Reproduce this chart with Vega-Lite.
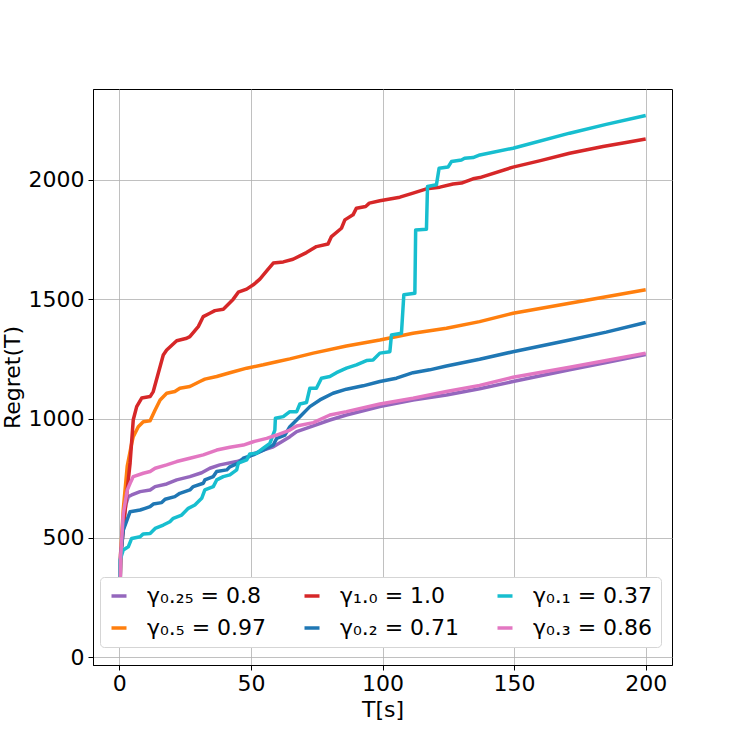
{
  "$schema": "https://vega.github.io/schema/vega-lite/v6.json",
  "width": 579,
  "height": 576,
  "autosize": "none",
  "padding": {"left": 93, "top": 89, "right": 75, "bottom": 82},
  "config": {
    "font": "DejaVu Sans",
    "view": {"stroke": "black", "strokeWidth": 1},
    "axis": {
      "labelFont": "DejaVu Sans", "labelFontSize": 22, "labelColor": "black",
      "titleFont": "DejaVu Sans", "titleFontSize": 22, "titleFontWeight": "normal", "titleColor": "black",
      "domainColor": "black", "tickColor": "black", "tickSize": 5, "tickWidth": 1,
      "gridColor": "#b0b0b0", "gridWidth": 0.8
    }
  },
  "datasets": {
    "regret": [
      {"s": "γ₀.₂₅ = 0.8", "T": 0, "V": 78}, {"s": "γ₀.₂₅ = 0.8", "T": 0.5, "V": 430}, {"s": "γ₀.₂₅ = 0.8", "T": 1.5, "V": 560},
      {"s": "γ₀.₂₅ = 0.8", "T": 2.5, "V": 640}, {"s": "γ₀.₂₅ = 0.8", "T": 3.4, "V": 673}, {"s": "γ₀.₂₅ = 0.8", "T": 4.7, "V": 680},
      {"s": "γ₀.₂₅ = 0.8", "T": 7.9, "V": 694}, {"s": "γ₀.₂₅ = 0.8", "T": 11.7, "V": 701}, {"s": "γ₀.₂₅ = 0.8", "T": 13.6, "V": 715},
      {"s": "γ₀.₂₅ = 0.8", "T": 18, "V": 726}, {"s": "γ₀.₂₅ = 0.8", "T": 21.8, "V": 743}, {"s": "γ₀.₂₅ = 0.8", "T": 26.8, "V": 757},
      {"s": "γ₀.₂₅ = 0.8", "T": 31.3, "V": 773}, {"s": "γ₀.₂₅ = 0.8", "T": 34.4, "V": 792}, {"s": "γ₀.₂₅ = 0.8", "T": 38.2, "V": 806},
      {"s": "γ₀.₂₅ = 0.8", "T": 44.6, "V": 820}, {"s": "γ₀.₂₅ = 0.8", "T": 48.4, "V": 834}, {"s": "γ₀.₂₅ = 0.8", "T": 50.9, "V": 852},
      {"s": "γ₀.₂₅ = 0.8", "T": 54.7, "V": 868}, {"s": "γ₀.₂₅ = 0.8", "T": 58.5, "V": 882}, {"s": "γ₀.₂₅ = 0.8", "T": 61.7, "V": 903},
      {"s": "γ₀.₂₅ = 0.8", "T": 64.8, "V": 924}, {"s": "γ₀.₂₅ = 0.8", "T": 67.4, "V": 945}, {"s": "γ₀.₂₅ = 0.8", "T": 73.7, "V": 969},
      {"s": "γ₀.₂₅ = 0.8", "T": 80, "V": 994}, {"s": "γ₀.₂₅ = 0.8", "T": 86.3, "V": 1015}, {"s": "γ₀.₂₅ = 0.8", "T": 99, "V": 1050},
      {"s": "γ₀.₂₅ = 0.8", "T": 111.6, "V": 1078}, {"s": "γ₀.₂₅ = 0.8", "T": 124.3, "V": 1099}, {"s": "γ₀.₂₅ = 0.8", "T": 136.9, "V": 1125},
      {"s": "γ₀.₂₅ = 0.8", "T": 149.6, "V": 1155}, {"s": "γ₀.₂₅ = 0.8", "T": 171.1, "V": 1204}, {"s": "γ₀.₂₅ = 0.8", "T": 185, "V": 1235},
      {"s": "γ₀.₂₅ = 0.8", "T": 200, "V": 1268},

      {"s": "γ₀.₅ = 0.97", "T": 0, "V": 78}, {"s": "γ₀.₅ = 0.97", "T": 0.5, "V": 430}, {"s": "γ₀.₅ = 0.97", "T": 1.5, "V": 620},
      {"s": "γ₀.₅ = 0.97", "T": 3, "V": 800}, {"s": "γ₀.₅ = 0.97", "T": 4.7, "V": 896}, {"s": "γ₀.₅ = 0.97", "T": 5.3, "V": 924},
      {"s": "γ₀.₅ = 0.97", "T": 7.2, "V": 966}, {"s": "γ₀.₅ = 0.97", "T": 9.1, "V": 987}, {"s": "γ₀.₅ = 0.97", "T": 11.7, "V": 991},
      {"s": "γ₀.₅ = 0.97", "T": 13.6, "V": 1036}, {"s": "γ₀.₅ = 0.97", "T": 15.5, "V": 1078}, {"s": "γ₀.₅ = 0.97", "T": 18, "V": 1106},
      {"s": "γ₀.₅ = 0.97", "T": 21.1, "V": 1113}, {"s": "γ₀.₅ = 0.97", "T": 23, "V": 1127}, {"s": "γ₀.₅ = 0.97", "T": 26.8, "V": 1134},
      {"s": "γ₀.₅ = 0.97", "T": 30.6, "V": 1155}, {"s": "γ₀.₅ = 0.97", "T": 32.5, "V": 1165}, {"s": "γ₀.₅ = 0.97", "T": 37, "V": 1176},
      {"s": "γ₀.₅ = 0.97", "T": 42, "V": 1192}, {"s": "γ₀.₅ = 0.97", "T": 48.4, "V": 1211}, {"s": "γ₀.₅ = 0.97", "T": 54.7, "V": 1225},
      {"s": "γ₀.₅ = 0.97", "T": 59.8, "V": 1238}, {"s": "γ₀.₅ = 0.97", "T": 64.8, "V": 1250}, {"s": "γ₀.₅ = 0.97", "T": 73.7, "V": 1274},
      {"s": "γ₀.₅ = 0.97", "T": 86.3, "V": 1304}, {"s": "γ₀.₅ = 0.97", "T": 99, "V": 1329}, {"s": "γ₀.₅ = 0.97", "T": 111.6, "V": 1357},
      {"s": "γ₀.₅ = 0.97", "T": 124.3, "V": 1378}, {"s": "γ₀.₅ = 0.97", "T": 136.9, "V": 1406}, {"s": "γ₀.₅ = 0.97", "T": 149.6, "V": 1441},
      {"s": "γ₀.₅ = 0.97", "T": 171.1, "V": 1483}, {"s": "γ₀.₅ = 0.97", "T": 185, "V": 1510}, {"s": "γ₀.₅ = 0.97", "T": 200, "V": 1539},

      {"s": "γ₁.₀ = 1.0", "T": 0, "V": 78}, {"s": "γ₁.₀ = 1.0", "T": 0.5, "V": 440}, {"s": "γ₁.₀ = 1.0", "T": 0.9, "V": 463},
      {"s": "γ₁.₀ = 1.0", "T": 2.5, "V": 650}, {"s": "γ₁.₀ = 1.0", "T": 4.1, "V": 814}, {"s": "γ₁.₀ = 1.0", "T": 5.3, "V": 995},
      {"s": "γ₁.₀ = 1.0", "T": 6.6, "V": 1050}, {"s": "γ₁.₀ = 1.0", "T": 8.5, "V": 1086}, {"s": "γ₁.₀ = 1.0", "T": 11.7, "V": 1092},
      {"s": "γ₁.₀ = 1.0", "T": 12.9, "V": 1113}, {"s": "γ₁.₀ = 1.0", "T": 16.7, "V": 1266}, {"s": "γ₁.₀ = 1.0", "T": 18, "V": 1287},
      {"s": "γ₁.₀ = 1.0", "T": 21.8, "V": 1326}, {"s": "γ₁.₀ = 1.0", "T": 25.6, "V": 1336}, {"s": "γ₁.₀ = 1.0", "T": 26.8, "V": 1343},
      {"s": "γ₁.₀ = 1.0", "T": 30, "V": 1385}, {"s": "γ₁.₀ = 1.0", "T": 31.9, "V": 1427}, {"s": "γ₁.₀ = 1.0", "T": 34.4, "V": 1441},
      {"s": "γ₁.₀ = 1.0", "T": 36.3, "V": 1452}, {"s": "γ₁.₀ = 1.0", "T": 39.5, "V": 1458}, {"s": "γ₁.₀ = 1.0", "T": 43.3, "V": 1500},
      {"s": "γ₁.₀ = 1.0", "T": 45.2, "V": 1529}, {"s": "γ₁.₀ = 1.0", "T": 48.4, "V": 1542}, {"s": "γ₁.₀ = 1.0", "T": 50.9, "V": 1560},
      {"s": "γ₁.₀ = 1.0", "T": 53.4, "V": 1584}, {"s": "γ₁.₀ = 1.0", "T": 56, "V": 1618}, {"s": "γ₁.₀ = 1.0", "T": 58.5, "V": 1651},
      {"s": "γ₁.₀ = 1.0", "T": 62.3, "V": 1656}, {"s": "γ₁.₀ = 1.0", "T": 66, "V": 1667}, {"s": "γ₁.₀ = 1.0", "T": 71.1, "V": 1695},
      {"s": "γ₁.₀ = 1.0", "T": 74.9, "V": 1720}, {"s": "γ₁.₀ = 1.0", "T": 79.3, "V": 1731}, {"s": "γ₁.₀ = 1.0", "T": 80.6, "V": 1762},
      {"s": "γ₁.₀ = 1.0", "T": 84.4, "V": 1797}, {"s": "γ₁.₀ = 1.0", "T": 85.7, "V": 1832}, {"s": "γ₁.₀ = 1.0", "T": 88.8, "V": 1853},
      {"s": "γ₁.₀ = 1.0", "T": 90.1, "V": 1881}, {"s": "γ₁.₀ = 1.0", "T": 93.6, "V": 1888}, {"s": "γ₁.₀ = 1.0", "T": 95, "V": 1902},
      {"s": "γ₁.₀ = 1.0", "T": 99, "V": 1912}, {"s": "γ₁.₀ = 1.0", "T": 106.6, "V": 1927}, {"s": "γ₁.₀ = 1.0", "T": 111.6, "V": 1944},
      {"s": "γ₁.₀ = 1.0", "T": 116.7, "V": 1962}, {"s": "γ₁.₀ = 1.0", "T": 121.8, "V": 1969}, {"s": "γ₁.₀ = 1.0", "T": 126.8, "V": 1982},
      {"s": "γ₁.₀ = 1.0", "T": 130, "V": 1986}, {"s": "γ₁.₀ = 1.0", "T": 134.4, "V": 2004}, {"s": "γ₁.₀ = 1.0", "T": 137, "V": 2009},
      {"s": "γ₁.₀ = 1.0", "T": 149.6, "V": 2053}, {"s": "γ₁.₀ = 1.0", "T": 160, "V": 2080}, {"s": "γ₁.₀ = 1.0", "T": 171.1, "V": 2111},
      {"s": "γ₁.₀ = 1.0", "T": 183.8, "V": 2139}, {"s": "γ₁.₀ = 1.0", "T": 192, "V": 2155}, {"s": "γ₁.₀ = 1.0", "T": 200, "V": 2171},

      {"s": "γ₀.₂ = 0.71", "T": 0, "V": 78}, {"s": "γ₀.₂ = 0.71", "T": 0.5, "V": 420}, {"s": "γ₀.₂ = 0.71", "T": 1.5, "V": 533},
      {"s": "γ₀.₂ = 0.71", "T": 3.4, "V": 589}, {"s": "γ₀.₂ = 0.71", "T": 4.1, "V": 610}, {"s": "γ₀.₂ = 0.71", "T": 7.9, "V": 617},
      {"s": "γ₀.₂ = 0.71", "T": 9.8, "V": 624}, {"s": "γ₀.₂ = 0.71", "T": 11.7, "V": 631}, {"s": "γ₀.₂ = 0.71", "T": 12.9, "V": 642},
      {"s": "γ₀.₂ = 0.71", "T": 16.1, "V": 648}, {"s": "γ₀.₂ = 0.71", "T": 17.4, "V": 662}, {"s": "γ₀.₂ = 0.71", "T": 21.1, "V": 673},
      {"s": "γ₀.₂ = 0.71", "T": 23, "V": 687}, {"s": "γ₀.₂ = 0.71", "T": 26.8, "V": 701}, {"s": "γ₀.₂ = 0.71", "T": 28.1, "V": 715},
      {"s": "γ₀.₂ = 0.71", "T": 31.9, "V": 729}, {"s": "γ₀.₂ = 0.71", "T": 32.5, "V": 743}, {"s": "γ₀.₂ = 0.71", "T": 35.7, "V": 757},
      {"s": "γ₀.₂ = 0.71", "T": 37, "V": 778}, {"s": "γ₀.₂ = 0.71", "T": 40.8, "V": 785}, {"s": "γ₀.₂ = 0.71", "T": 42, "V": 798},
      {"s": "γ₀.₂ = 0.71", "T": 45.2, "V": 813}, {"s": "γ₀.₂ = 0.71", "T": 47.1, "V": 834}, {"s": "γ₀.₂ = 0.71", "T": 50.9, "V": 848},
      {"s": "γ₀.₂ = 0.71", "T": 54.7, "V": 868}, {"s": "γ₀.₂ = 0.71", "T": 58.5, "V": 889}, {"s": "γ₀.₂ = 0.71", "T": 59.8, "V": 917},
      {"s": "γ₀.₂ = 0.71", "T": 62.9, "V": 931}, {"s": "γ₀.₂ = 0.71", "T": 64.8, "V": 966}, {"s": "γ₀.₂ = 0.71", "T": 68.6, "V": 1008},
      {"s": "γ₀.₂ = 0.71", "T": 72.4, "V": 1050}, {"s": "γ₀.₂ = 0.71", "T": 76.2, "V": 1078}, {"s": "γ₀.₂ = 0.71", "T": 81.2, "V": 1106},
      {"s": "γ₀.₂ = 0.71", "T": 86.3, "V": 1123}, {"s": "γ₀.₂ = 0.71", "T": 92.6, "V": 1137}, {"s": "γ₀.₂ = 0.71", "T": 99, "V": 1155},
      {"s": "γ₀.₂ = 0.71", "T": 105.3, "V": 1169}, {"s": "γ₀.₂ = 0.71", "T": 111.6, "V": 1192}, {"s": "γ₀.₂ = 0.71", "T": 117.9, "V": 1204},
      {"s": "γ₀.₂ = 0.71", "T": 124.3, "V": 1220}, {"s": "γ₀.₂ = 0.71", "T": 136.9, "V": 1248}, {"s": "γ₀.₂ = 0.71", "T": 149.6, "V": 1280},
      {"s": "γ₀.₂ = 0.71", "T": 171.1, "V": 1329}, {"s": "γ₀.₂ = 0.71", "T": 185, "V": 1362}, {"s": "γ₀.₂ = 0.71", "T": 200, "V": 1402},

      {"s": "γ₀.₁ = 0.37", "T": 0, "V": 78}, {"s": "γ₀.₁ = 0.37", "T": 0.3, "V": 408}, {"s": "γ₀.₁ = 0.37", "T": 1.5, "V": 450},
      {"s": "γ₀.₁ = 0.37", "T": 3.4, "V": 463}, {"s": "γ₀.₁ = 0.37", "T": 4.7, "V": 498}, {"s": "γ₀.₁ = 0.37", "T": 7.9, "V": 505},
      {"s": "γ₀.₁ = 0.37", "T": 9.1, "V": 517}, {"s": "γ₀.₁ = 0.37", "T": 11.7, "V": 519}, {"s": "γ₀.₁ = 0.37", "T": 13.6, "V": 540},
      {"s": "γ₀.₁ = 0.37", "T": 16.7, "V": 554}, {"s": "γ₀.₁ = 0.37", "T": 19.2, "V": 568}, {"s": "γ₀.₁ = 0.37", "T": 20.5, "V": 582},
      {"s": "γ₀.₁ = 0.37", "T": 23.7, "V": 596}, {"s": "γ₀.₁ = 0.37", "T": 26.2, "V": 624}, {"s": "γ₀.₁ = 0.37", "T": 28.7, "V": 638},
      {"s": "γ₀.₁ = 0.37", "T": 31.3, "V": 666}, {"s": "γ₀.₁ = 0.37", "T": 32.5, "V": 701}, {"s": "γ₀.₁ = 0.37", "T": 35.7, "V": 715},
      {"s": "γ₀.₁ = 0.37", "T": 37, "V": 743}, {"s": "γ₀.₁ = 0.37", "T": 39.5, "V": 757}, {"s": "γ₀.₁ = 0.37", "T": 42, "V": 764},
      {"s": "γ₀.₁ = 0.37", "T": 44.6, "V": 785}, {"s": "γ₀.₁ = 0.37", "T": 45.2, "V": 813}, {"s": "γ₀.₁ = 0.37", "T": 48.4, "V": 827},
      {"s": "γ₀.₁ = 0.37", "T": 49.6, "V": 852}, {"s": "γ₀.₁ = 0.37", "T": 52.2, "V": 855}, {"s": "γ₀.₁ = 0.37", "T": 54.7, "V": 876},
      {"s": "γ₀.₁ = 0.37", "T": 57.2, "V": 896}, {"s": "γ₀.₁ = 0.37", "T": 59.1, "V": 952}, {"s": "γ₀.₁ = 0.37", "T": 59.3, "V": 1001},
      {"s": "γ₀.₁ = 0.37", "T": 62.3, "V": 1008}, {"s": "γ₀.₁ = 0.37", "T": 64.8, "V": 1029}, {"s": "γ₀.₁ = 0.37", "T": 67.4, "V": 1029},
      {"s": "γ₀.₁ = 0.37", "T": 68.6, "V": 1061}, {"s": "γ₀.₁ = 0.37", "T": 71.1, "V": 1067}, {"s": "γ₀.₁ = 0.37", "T": 72.4, "V": 1127},
      {"s": "γ₀.₁ = 0.37", "T": 74.9, "V": 1127}, {"s": "γ₀.₁ = 0.37", "T": 76.8, "V": 1169}, {"s": "γ₀.₁ = 0.37", "T": 80, "V": 1176},
      {"s": "γ₀.₁ = 0.37", "T": 82.5, "V": 1192}, {"s": "γ₀.₁ = 0.37", "T": 86.3, "V": 1211}, {"s": "γ₀.₁ = 0.37", "T": 90.1, "V": 1225},
      {"s": "γ₀.₁ = 0.37", "T": 93.9, "V": 1243}, {"s": "γ₀.₁ = 0.37", "T": 96.4, "V": 1245}, {"s": "γ₀.₁ = 0.37", "T": 99, "V": 1274},
      {"s": "γ₀.₁ = 0.37", "T": 102.8, "V": 1280}, {"s": "γ₀.₁ = 0.37", "T": 103.4, "V": 1350}, {"s": "γ₀.₁ = 0.37", "T": 107.2, "V": 1357},
      {"s": "γ₀.₁ = 0.37", "T": 108.1, "V": 1518}, {"s": "γ₀.₁ = 0.37", "T": 112.3, "V": 1525}, {"s": "γ₀.₁ = 0.37", "T": 112.6, "V": 1790},
      {"s": "γ₀.₁ = 0.37", "T": 116.7, "V": 1793}, {"s": "γ₀.₁ = 0.37", "T": 117.1, "V": 1972}, {"s": "γ₀.₁ = 0.37", "T": 120.5, "V": 1979},
      {"s": "γ₀.₁ = 0.37", "T": 121.5, "V": 2048}, {"s": "γ₀.₁ = 0.37", "T": 124.9, "V": 2053}, {"s": "γ₀.₁ = 0.37", "T": 126.2, "V": 2076},
      {"s": "γ₀.₁ = 0.37", "T": 130, "V": 2083}, {"s": "γ₀.₁ = 0.37", "T": 131.2, "V": 2090}, {"s": "γ₀.₁ = 0.37", "T": 134.4, "V": 2093},
      {"s": "γ₀.₁ = 0.37", "T": 137, "V": 2104}, {"s": "γ₀.₁ = 0.37", "T": 149.6, "V": 2132}, {"s": "γ₀.₁ = 0.37", "T": 171.1, "V": 2195},
      {"s": "γ₀.₁ = 0.37", "T": 185, "V": 2232}, {"s": "γ₀.₁ = 0.37", "T": 200, "V": 2269},

      {"s": "γ₀.₃ = 0.86", "T": 0, "V": 78}, {"s": "γ₀.₃ = 0.86", "T": 0.5, "V": 420}, {"s": "γ₀.₃ = 0.86", "T": 1.5, "V": 600},
      {"s": "γ₀.₃ = 0.86", "T": 3, "V": 700}, {"s": "γ₀.₃ = 0.86", "T": 4.1, "V": 729}, {"s": "γ₀.₃ = 0.86", "T": 5.3, "V": 757},
      {"s": "γ₀.₃ = 0.86", "T": 9.1, "V": 771}, {"s": "γ₀.₃ = 0.86", "T": 11.7, "V": 778}, {"s": "γ₀.₃ = 0.86", "T": 13.6, "V": 792},
      {"s": "γ₀.₃ = 0.86", "T": 18, "V": 806}, {"s": "γ₀.₃ = 0.86", "T": 21.8, "V": 820}, {"s": "γ₀.₃ = 0.86", "T": 26.8, "V": 834},
      {"s": "γ₀.₃ = 0.86", "T": 31.9, "V": 848}, {"s": "γ₀.₃ = 0.86", "T": 37, "V": 868}, {"s": "γ₀.₃ = 0.86", "T": 42, "V": 880},
      {"s": "γ₀.₃ = 0.86", "T": 47.1, "V": 889}, {"s": "γ₀.₃ = 0.86", "T": 50.9, "V": 903}, {"s": "γ₀.₃ = 0.86", "T": 56, "V": 917},
      {"s": "γ₀.₃ = 0.86", "T": 59.8, "V": 931}, {"s": "γ₀.₃ = 0.86", "T": 64.8, "V": 952}, {"s": "γ₀.₃ = 0.86", "T": 67.4, "V": 969},
      {"s": "γ₀.₃ = 0.86", "T": 73.7, "V": 983}, {"s": "γ₀.₃ = 0.86", "T": 80, "V": 1015}, {"s": "γ₀.₃ = 0.86", "T": 86.3, "V": 1029},
      {"s": "γ₀.₃ = 0.86", "T": 99, "V": 1061}, {"s": "γ₀.₃ = 0.86", "T": 111.6, "V": 1085}, {"s": "γ₀.₃ = 0.86", "T": 124.3, "V": 1113},
      {"s": "γ₀.₃ = 0.86", "T": 136.9, "V": 1139}, {"s": "γ₀.₃ = 0.86", "T": 149.6, "V": 1173}, {"s": "γ₀.₃ = 0.86", "T": 171.1, "V": 1215},
      {"s": "γ₀.₃ = 0.86", "T": 185, "V": 1243}, {"s": "γ₀.₃ = 0.86", "T": 200, "V": 1274}
    ]
  },
  "data": {"name": "regret"},
  "mark": {"type": "line", "strokeWidth": 3.5, "strokeJoin": "round", "strokeCap": "butt"},
  "encoding": {
    "x": {
      "field": "T", "type": "quantitative", "title": "T[s]",
      "scale": {"domain": [-10, 210], "nice": false, "zero": false},
      "axis": {"values": [0, 50, 100, 150, 200], "format": "d", "labelPadding": 3, "titlePadding": 5, "labelFlush": false}
    },
    "y": {
      "field": "V", "type": "quantitative", "title": "Regret(T)",
      "scale": {"domain": [-32, 2380], "nice": false, "zero": false},
      "axis": {"values": [0, 500, 1000, 1500, 2000], "format": "d", "labelPadding": 4, "titlePadding": 4, "labelFlush": false}
    },
    "color": {
      "field": "s", "type": "nominal",
      "scale": {
        "domain": ["γ₀.₂₅ = 0.8", "γ₁.₀ = 1.0", "γ₀.₁ = 0.37", "γ₀.₅ = 0.97", "γ₀.₂ = 0.71", "γ₀.₃ = 0.86"],
        "range": ["#9467bd", "#d62728", "#17becf", "#ff7f0e", "#1f77b4", "#e377c2"]
      },
      "legend": {
        "title": null, "orient": "none", "legendX": 7, "legendY": 488, "columns": 3,
        "direction": "horizontal",
        "symbolType": "stroke", "symbolSize": 225, "symbolStrokeWidth": 3.5,
        "labelFont": "DejaVu Sans", "labelFontSize": 22, "labelColor": "black", "labelOffset": 17, "labelLimit": 300,
        "padding": 8, "rowPadding": 10, "columnPadding": 30,
        "fillColor": "white", "strokeColor": "#d5d5d5", "cornerRadius": 4
      }
    }
  }
}
